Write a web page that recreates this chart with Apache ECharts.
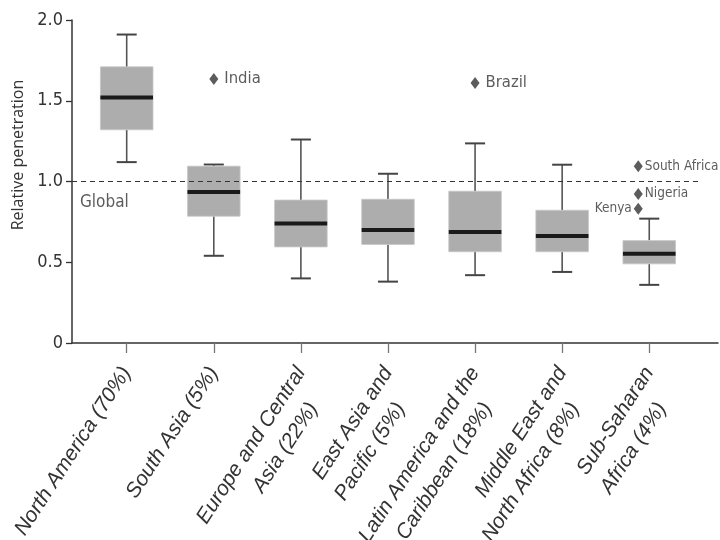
<!DOCTYPE html>
<html>
<head>
<meta charset="utf-8">
<script src="https://cdn.jsdelivr.net/npm/echarts@6/dist/echarts.min.js"></script>
<style>html,body{margin:0;padding:0;background:#fff;}#c{width:720px;height:540px;}</style>
</head>
<body>
<div id="c"></div>
<script>
const categories = [
  'North America (70%)',
  'South Asia (5%)',
  'Europe and Central\nAsia (22%)',
  'East Asia and\nPacific (5%)',
  'Latin America and the\nCaribbean (18%)',
  'Middle East and\nNorth Africa (8%)',
  'Sub-Saharan\nAfrica (4%)'
];
const whiskerLow  = [1.12, 0.54, 0.40, 0.38, 0.42, 0.44, 0.36];
const boxLow      = [1.32, 0.785, 0.595, 0.61, 0.565, 0.565, 0.49];
const medians     = [1.52, 0.935, 0.74, 0.70, 0.688, 0.663, 0.553];
const boxHigh     = [1.71, 1.095, 0.885, 0.89, 0.94, 0.822, 0.634];
const whiskerHigh = [1.91, 1.105, 1.26, 1.048, 1.236, 1.104, 0.77];

const outlierNames = ['India', 'Brazil', 'South Africa', 'Nigeria', 'Kenya'];
const outlierCats  = [1, 4, 6, 6, 6];
const outlierVals  = [1.635, 1.61, 1.095, 0.923, 0.832];

const yTickLabels = ['0', '0.5', '1.0', '1.5', '2.0'];
const globalLevel = 1.0;
const globalLabel = 'Global';
const yTitle = 'Relative penetration';

const narrow = "'DejaVu Sans Condensed', 'Liberation Sans', sans-serif";
const xFont = "'Liberation Sans', Arial, sans-serif";
const txt = '#333';

const boxData = categories.map((c, i) => [i, whiskerLow[i], boxLow[i], medians[i], boxHigh[i], whiskerHigh[i]]);

function renderBox(params, api) {
  const i = api.value(0);
  const band = api.size([1, 0])[0];
  const boxW = band * 0.604;
  const capW = band * 0.23;
  const pWL = api.coord([i, api.value(1)]);
  const pBL = api.coord([i, api.value(2)]);
  const pMed = api.coord([i, api.value(3)]);
  const pBH = api.coord([i, api.value(4)]);
  const pWH = api.coord([i, api.value(5)]);
  const x = pMed[0];
  const lineStyle = { stroke: '#555', lineWidth: 1.6 };
  return {
    type: 'group',
    children: [
      { type: 'line', shape: { x1: x, y1: pBH[1], x2: x, y2: pWH[1] }, style: lineStyle },
      { type: 'line', shape: { x1: x, y1: pBL[1], x2: x, y2: pWL[1] }, style: lineStyle },
      { type: 'line', shape: { x1: x - capW / 2, y1: pWH[1], x2: x + capW / 2, y2: pWH[1] }, style: { stroke: '#444', lineWidth: 2 } },
      { type: 'line', shape: { x1: x - capW / 2, y1: pWL[1], x2: x + capW / 2, y2: pWL[1] }, style: { stroke: '#444', lineWidth: 2 } },
      { type: 'rect', shape: { x: x - boxW / 2, y: pBH[1], width: boxW, height: pBL[1] - pBH[1] }, style: { fill: '#adadad', stroke: '#c8c8c8', lineWidth: 0.8 } },
      { type: 'line', shape: { x1: x - boxW / 2, y1: pMed[1], x2: x + boxW / 2, y2: pMed[1] }, style: { stroke: '#1a1a1a', lineWidth: 4 } }
    ]
  };
}

const outlierData = outlierNames.map((n, k) => {
  const subSaharan = outlierCats[k] === 6;
  const left = n === 'Kenya';
  return {
    name: n,
    value: [outlierCats[k], outlierVals[k]],
    symbolOffset: subSaharan ? [-11, 0] : [0, 0],
    label: {
      show: true,
      formatter: n,
      position: left ? 'left' : 'right',
      distance: subSaharan ? 2 : 6,
      fontSize: subSaharan ? 13.5 : 16.5,
      fontFamily: narrow,
      color: txt
    }
  };
});

const labelStyle = { fontSize: 21, fontStyle: 'italic', fontFamily: xFont, color: txt, lineHeight: 30 };

const chart = echarts.init(document.getElementById('c'), null, { renderer: 'canvas' });
chart.setOption({
  animation: false,
  backgroundColor: '#fff',
  grid: [
    { left: 72, right: 2, top: 20, bottom: 197, outerBoundsMode: 'none', containLabel: false },
    { left: 83.15, right: 27.2, top: 20, bottom: 197, outerBoundsMode: 'none', containLabel: false }
  ],
  xAxis: [
    { type: 'value', gridIndex: 0, min: 0, max: 1, axisLine: { show: true, onZero: false, lineStyle: { color: '#333', width: 1.5 } }, axisTick: { show: false }, axisLabel: { show: false }, splitLine: { show: false } },
    {
      type: 'category', gridIndex: 1, data: categories, boundaryGap: true,
      axisLine: { show: false },
      axisTick: { show: true, alignWithLabel: true, length: 10, lineStyle: { color: '#777', width: 1.3 } },
      axisLabel: {
        interval: 0, rotate: 57, margin: 26, align: 'right', verticalAlign: 'top',
        padding: [-15, 0, 0, 0],
        fontSize: 21, fontStyle: 'italic', fontFamily: xFont, color: txt, lineHeight: 30,
        formatter: v => {
          const parts = v.split('\n');
          return parts.length > 1 ? '{a|' + parts[0] + '}\n{b|' + parts[1] + '}' : '{a|' + v + '}';
        },
        rich: {
          a: Object.assign({}, labelStyle),
          b: Object.assign({ padding: [0, 23, 0, 0] }, labelStyle)
        }
      },
      splitLine: { show: false }
    }
  ],
  yAxis: [
    {
      type: 'value', gridIndex: 0, min: 0, max: 2, interval: 0.5,
      axisLine: { show: true, lineStyle: { color: '#333', width: 1.5 } },
      axisTick: { show: true, length: 6, lineStyle: { color: '#333', width: 1.3 } },
      axisLabel: { margin: 9, fontSize: 18, fontFamily: narrow, color: txt, formatter: v => yTickLabels[Math.round(v / 0.5)] },
      splitLine: { show: false },
      name: yTitle, nameLocation: 'middle', nameGap: 44, nameRotate: 90,
      nameTextStyle: { fontSize: 16, fontFamily: "'Open Sans', sans-serif", color: txt, padding: [0, 0, 0, 53] }
    },
    { type: 'value', gridIndex: 1, min: 0, max: 2, show: false }
  ],
  series: [
    {
      type: 'scatter', xAxisIndex: 0, yAxisIndex: 0, data: [[0, globalLevel]], symbolSize: 0, silent: true,
      label: { show: true, formatter: globalLabel, position: 'right', offset: [3, 21], fontSize: 17, fontFamily: narrow, color: txt },
      markLine: {
        silent: true, symbol: 'none', label: { show: false },
        lineStyle: { type: [5, 4], color: '#333', width: 1.2 },
        data: [[{ coord: [0, globalLevel] }, { coord: [0.975, globalLevel] }]]
      }
    },
    {
      type: 'custom', xAxisIndex: 1, yAxisIndex: 1, data: boxData, renderItem: renderBox,
      encode: { x: 0, y: [1, 2, 3, 4, 5] }
    },
    {
      type: 'scatter', xAxisIndex: 1, yAxisIndex: 1, symbol: 'diamond', symbolSize: [9, 12],
      itemStyle: { color: '#333' }, data: outlierData
    }
  ]
});
</script>
</body>
</html>
